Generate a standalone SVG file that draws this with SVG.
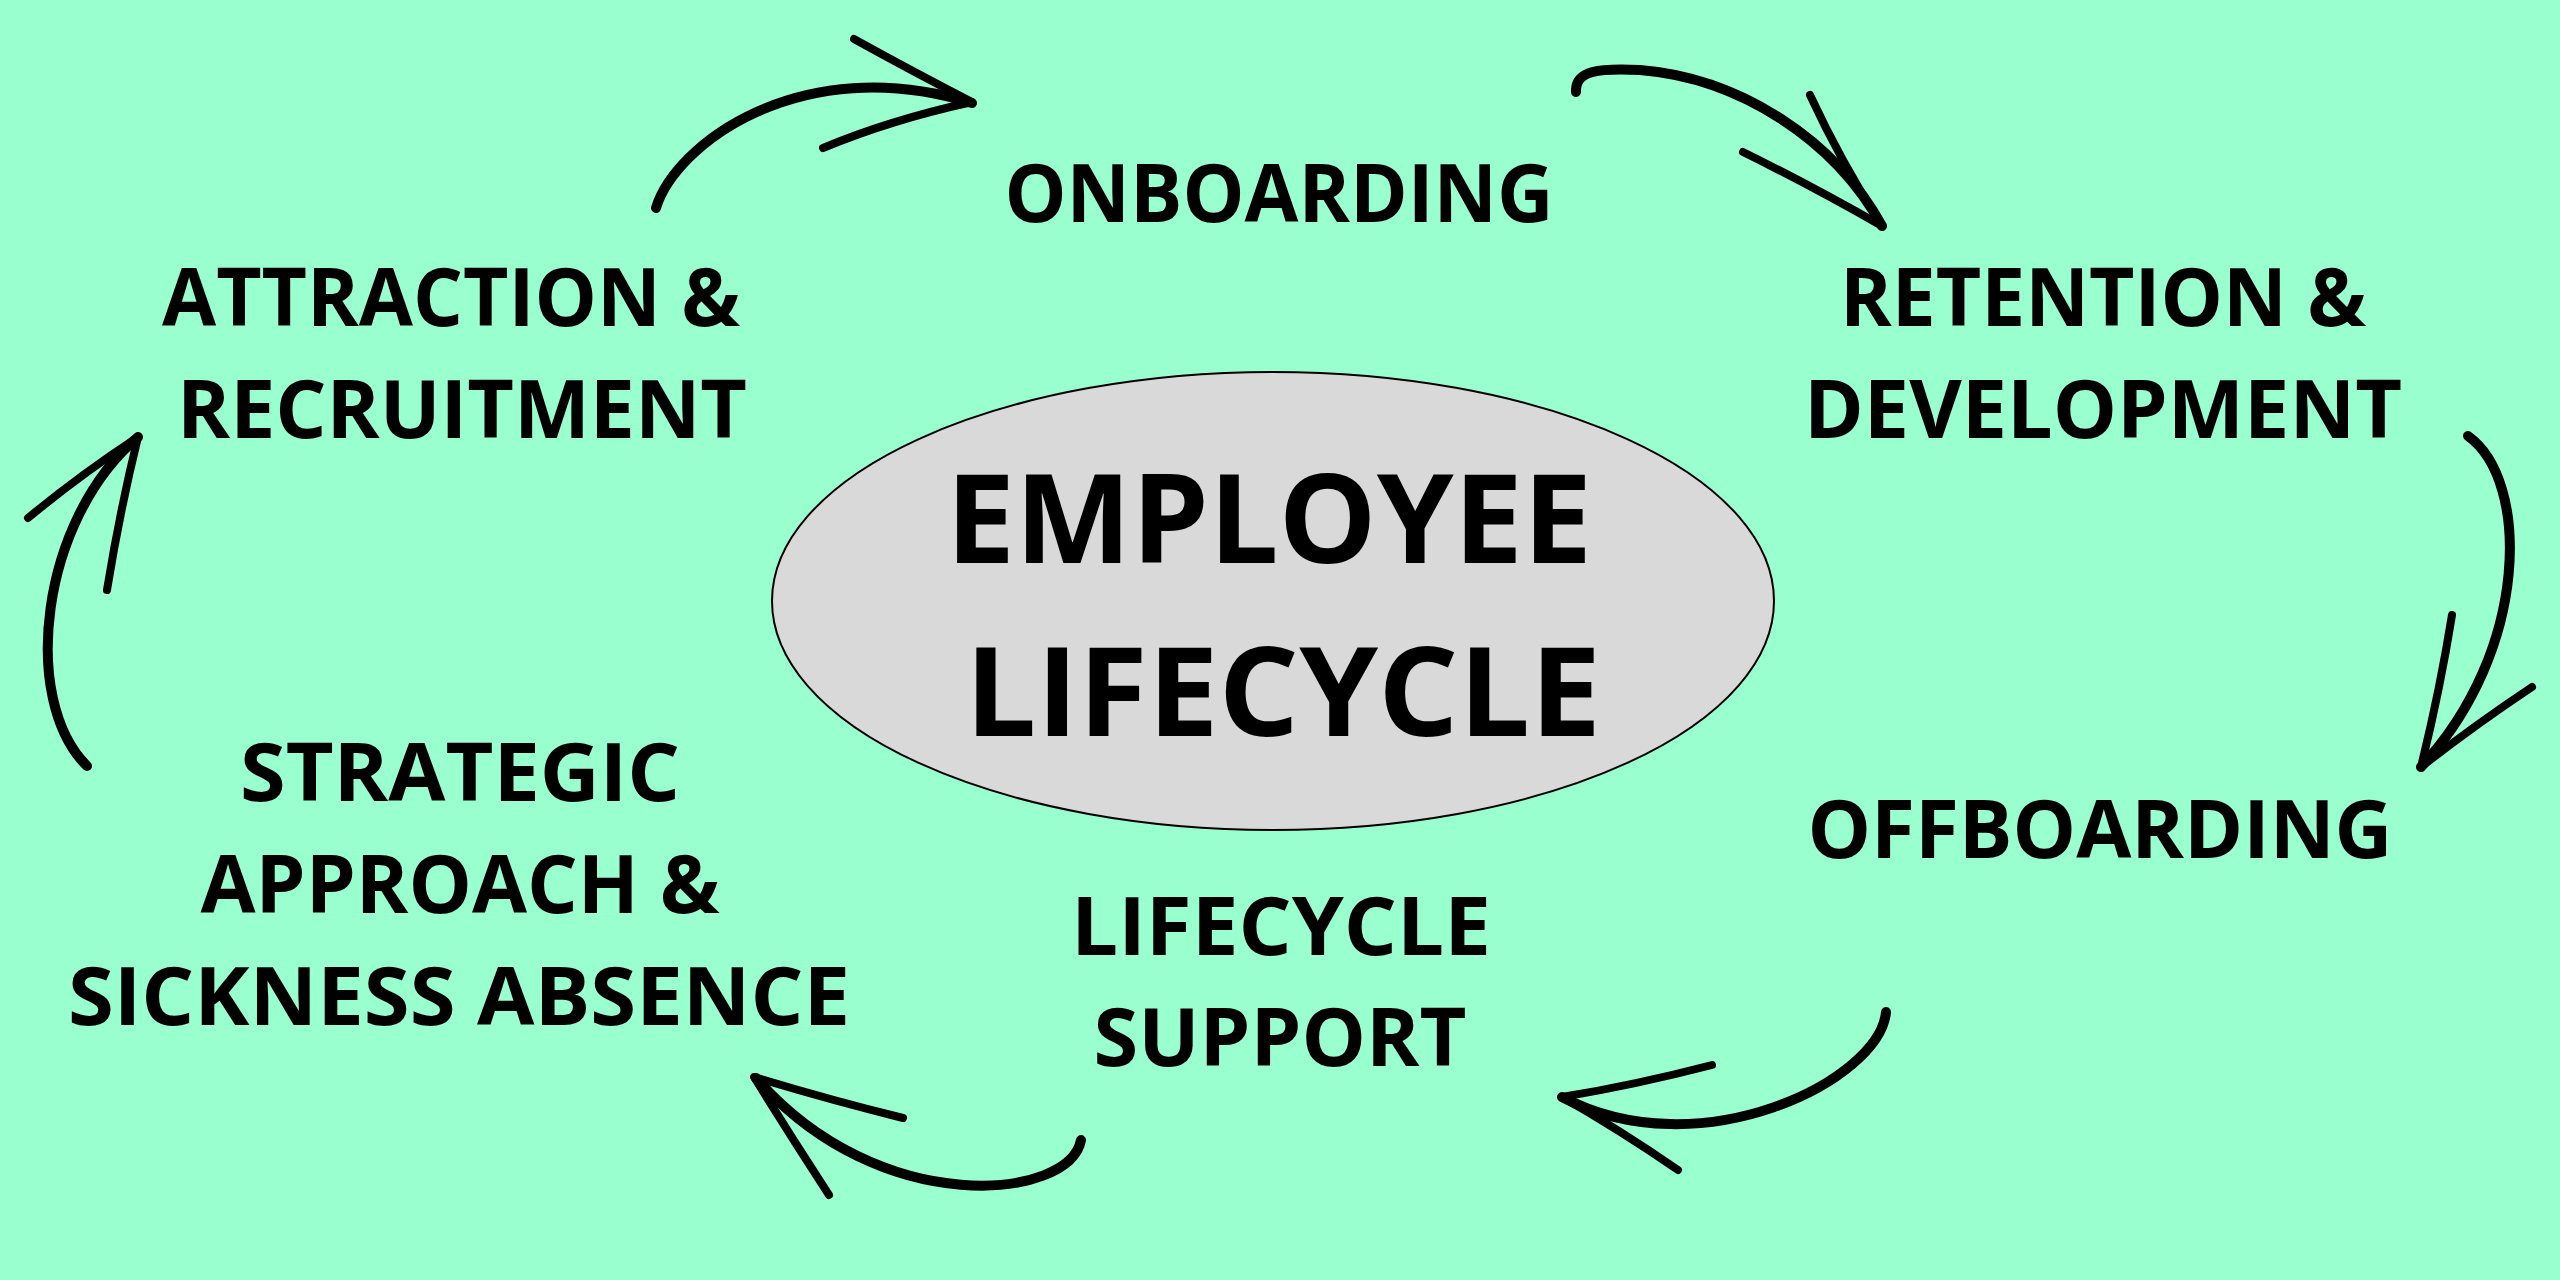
<svg xmlns="http://www.w3.org/2000/svg" width="2560" height="1280" viewBox="0 0 2560 1280">
<style>
.lbl{font-family:"Open Sans","Liberation Sans",sans-serif;font-weight:700;font-size:80px;fill:#000;text-anchor:middle}
.big{font-family:"Open Sans","Liberation Sans",sans-serif;font-weight:700;font-size:123px;fill:#000;text-anchor:middle}
.shaft{fill:none;stroke:#000;stroke-width:10;stroke-linecap:round;stroke-linejoin:round}
.barb{fill:none;stroke:#000;stroke-width:8;stroke-linecap:round;stroke-linejoin:round}
</style>
<rect width="2560" height="1280" fill="#99FFCF"/>
<g id="center">
<ellipse cx="1273" cy="601" rx="501" ry="229" fill="#D9D9D9" stroke="#000" stroke-width="2"/>
<text class="big" x="1269" y="563" textLength="646" lengthAdjust="spacingAndGlyphs">EMPLOYEE</text>
<text class="big" x="1283" y="736" textLength="636" lengthAdjust="spacingAndGlyphs">LIFECYCLE</text>
</g>
<g id="onboarding">
<text class="lbl" x="1279" y="222" textLength="549" lengthAdjust="spacingAndGlyphs">ONBOARDING</text>
</g>
<g id="retention">
<text class="lbl" x="2103" y="326" textLength="526" lengthAdjust="spacingAndGlyphs">RETENTION &amp;</text>
<text class="lbl" x="2103" y="438" textLength="598" lengthAdjust="spacingAndGlyphs">DEVELOPMENT</text>
</g>
<g id="offboarding">
<text class="lbl" x="2100" y="858" textLength="585" lengthAdjust="spacingAndGlyphs">OFFBOARDING</text>
</g>
<g id="lifecycle-support">
<text class="lbl" x="1281" y="955" textLength="420" lengthAdjust="spacingAndGlyphs">LIFECYCLE</text>
<text class="lbl" x="1280" y="1066" textLength="373" lengthAdjust="spacingAndGlyphs">SUPPORT</text>
</g>
<g id="strategic">
<text class="lbl" x="460" y="801" textLength="440" lengthAdjust="spacingAndGlyphs">STRATEGIC</text>
<text class="lbl" x="460" y="913" textLength="519" lengthAdjust="spacingAndGlyphs">APPROACH &amp;</text>
<text class="lbl" x="459" y="1025" textLength="782" lengthAdjust="spacingAndGlyphs">SICKNESS ABSENCE</text>
</g>
<g id="attraction">
<text class="lbl" x="451" y="326" textLength="578" lengthAdjust="spacingAndGlyphs">ATTRACTION &amp;</text>
<text class="lbl" x="462" y="438" textLength="570" lengthAdjust="spacingAndGlyphs">RECRUITMENT</text>
</g>
<g id="connectors">
<path class="shaft" d="M656,208 C675,145 800,50 972,103"/>
<path class="barb" d="M854,39 Q910,70 972,102 Q890,120 823,148"/>
<path class="shaft" d="M1576,92 C1575,70 1600,68 1640,70 C1740,78 1835,140 1882,226"/>
<path class="barb" d="M1810,95 Q1840,160 1882,226 Q1810,185 1743,152"/>
<path class="shaft" d="M2468,436 C2530,480 2530,650 2421,767"/>
<path class="barb" d="M2452,615 Q2440,690 2421,767 Q2475,725 2532,687"/>
<path class="shaft" d="M1886,1012 C1880,1080 1700,1170 1562,1097"/>
<path class="barb" d="M1712,1065 Q1635,1085 1562,1097 Q1620,1130 1678,1170"/>
<path class="shaft" d="M1081,1140 C1070,1200 880,1220 756,1078"/>
<path class="barb" d="M903,1118 Q830,1100 754,1077 Q790,1135 829,1195"/>
<path class="shaft" d="M87,766 C20,700 40,520 138,437"/>
<path class="barb" d="M28,518 Q80,475 138,437 Q120,510 107,590"/>
</g>
</svg>
